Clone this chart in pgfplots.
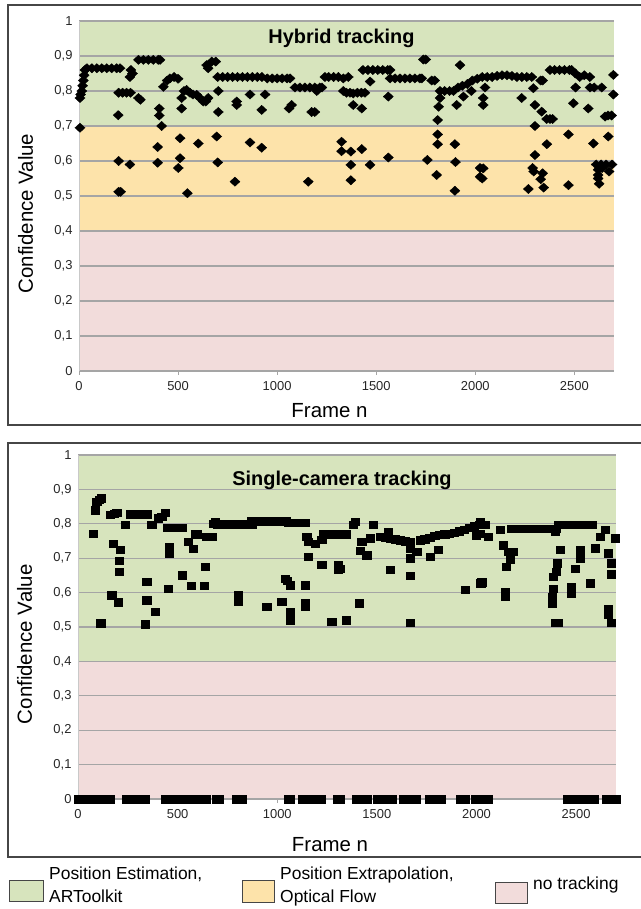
\documentclass[border=0pt]{standalone}
\usepackage{pgfplots}
\pgfplotsset{compat=1.18}
\usepackage{fontspec}
\setmainfont{Liberation Sans}
\definecolor{bgG}{RGB}{215,228,189}
\definecolor{bgO}{RGB}{253,227,170}
\definecolor{bgP}{RGB}{242,220,219}
\definecolor{gridc}{RGB}{165,165,165}
\definecolor{framec}{RGB}{70,70,70}
\pgfplotsset{
  confstyle/.style={
    set layers, scale only axis, clip=false,
    xmin=0, xmax=2700, ymin=0, ymax=1,
    xtick={0,500,1000,1500,2000,2500},
    ytick={0,0.1,0.2,0.3,0.4,0.5,0.6,0.7,0.8,0.9,1},
    axis x line*=bottom, axis y line*=left,
    x axis line style={draw=gridc, line width=1bp, -},
    y axis line style={draw=gridc!60, line width=1bp, -},
    ymajorgrids, grid style={draw=gridc, line width=1.2bp},
    xtick style={draw=gridc, line width=0.8bp},
    major tick length=4bp, xtick align=outside,
    ytick style={draw=none},
    ticklabel style={font=\fontsize{13}{15}\selectfont, text=black!85},
    xticklabel style={yshift=-3bp},
    yticklabel style={xshift=-3bp},
    /pgf/number format/.cd, use comma, fixed, precision=1, 1000 sep={}, assume math mode=true,
    /pgfplots/.cd,
    ylabel={Confidence Value},
    xlabel={Frame n},
    label style={font=\fontsize{20.5}{24}\selectfont},
    ylabel style={at={([xshift=-53.5bp]axis description cs:0,0.45)}, anchor=center},
  },
  hyb/.style={only marks, mark=diamond*, mark size=4.6bp, mark options={xscale=1.45, draw=black, fill=black}},
  sq/.style={only marks, mark=square*, mark size=3.7bp, mark options={xscale=1.1, draw=black, fill=black}},
}
\begin{document}
\begin{tikzpicture}
% ---------------- Hybrid tracking ----------------
\begin{axis}[confstyle, at={(79bp,-371bp)}, anchor=south west, width=535bp, height=350bp,
  xlabel style={at={([xshift=-17bp,yshift=-40bp]axis description cs:0.5,0)}, anchor=center}]
\addplot[on layer=axis background, fill=bgP, draw=none] coordinates {(0,0) (2700,0) (2700,0.4) (0,0.4)};
\addplot[on layer=axis background, fill=bgO, draw=none] coordinates {(0,0.4) (2700,0.4) (2700,0.7) (0,0.7)};
\addplot[on layer=axis background, fill=bgG, draw=none] coordinates {(0,0.7) (2700,0.7) (2700,1) (0,1)};
\addplot[hyb] coordinates {
(5,0.78)(5,0.695)(8,0.79)(14,0.80)(18,0.815)(22,0.83)(26,0.845)(30,0.86)
(40,0.865)(65,0.865)(90,0.865)(115,0.865)(140,0.865)(165,0.865)(190,0.865)(207,0.865)
(198,0.731)(200,0.60)(200,0.512)(210,0.512)
(200,0.795)(220,0.795)(240,0.795)(260,0.795)(257,0.59)
(257,0.84)(262,0.86)(270,0.85)
(300,0.78)(310,0.775)
(300,0.889)(325,0.889)(350,0.889)(375,0.889)(400,0.889)(409,0.889)
(405,0.75)(405,0.73)(417,0.70)(397,0.64)(397,0.595)
(426,0.812)(445,0.83)(459,0.836)(480,0.84)(500,0.835)
(518,0.78)(518,0.75)(510,0.665)(510,0.608)(501,0.58)(547,0.508)
(530,0.80)(543,0.803)(560,0.795)(575,0.79)(594,0.789)(610,0.78)(627,0.77)(640,0.77)
(602,0.65)
(644,0.874)(652,0.865)(670,0.884)(690,0.884)
(695,0.67)(700,0.596)(703,0.80)(703,0.74)(652,0.78)
(700,0.84)(725,0.84)(750,0.84)(775,0.84)(800,0.84)(825,0.84)(850,0.84)(875,0.84)(900,0.84)(923,0.84)
(796,0.77)(796,0.76)(787,0.541)(863,0.79)(863,0.653)(922,0.746)(922,0.638)(939,0.79)
(950,0.836)(975,0.836)(1000,0.836)(1025,0.836)(1050,0.836)(1065,0.836)
(1073,0.76)(1060,0.75)
(1090,0.81)(1115,0.81)(1140,0.81)(1165,0.81)(1190,0.81)(1215,0.81)(1226,0.81)(1200,0.80)
(1174,0.74)(1190,0.74)(1157,0.541)
(1241,0.84)(1260,0.84)(1285,0.84)(1309,0.84)(1334,0.836)(1359,0.84)
(1334,0.80)(1350,0.795)(1368,0.795)(1384,0.793)(1405,0.795)(1425,0.795)(1443,0.795)
(1325,0.655)(1325,0.628)(1372,0.627)(1372,0.589)(1372,0.545)(1427,0.634)
(1384,0.76)(1427,0.75)
(1433,0.86)(1458,0.86)(1483,0.86)(1508,0.86)(1533,0.86)(1558,0.86)(1570,0.86)
(1469,0.827)(1561,0.784)(1469,0.589)(1561,0.61)
(1570,0.836)(1595,0.836)(1620,0.836)(1645,0.836)(1670,0.836)(1695,0.836)(1720,0.836)(1730,0.836)
(1738,0.89)(1750,0.89)(1758,0.603)(1780,0.83)(1795,0.83)
(1822,0.80)(1845,0.80)(1870,0.80)(1890,0.80)
(1822,0.78)(1815,0.755)(1810,0.717)(1810,0.676)(1810,0.648)(1805,0.56)
(1923,0.874)(1906,0.76)(1897,0.648)(1900,0.597)(1897,0.515)
(1913,0.81)(1935,0.815)(1960,0.82)(1985,0.83)(2010,0.835)(2035,0.84)
(1940,0.784)(1980,0.80)
(2024,0.58)(2024,0.555)(2040,0.579)(2035,0.55)
(2049,0.81)(2040,0.78)(2040,0.76)
(2060,0.84)(2085,0.84)(2110,0.843)(2135,0.845)(2160,0.845)(2185,0.843)(2210,0.84)(2235,0.84)(2260,0.84)(2285,0.84)
(2234,0.78)
(2293,0.808)(2330,0.83)(2340,0.83)
(2301,0.76)(2335,0.741)(2360,0.72)(2377,0.72)(2390,0.72)
(2301,0.70)(2301,0.617)(2289,0.58)(2295,0.57)(2361,0.648)(2340,0.565)(2330,0.548)(2268,0.52)(2345,0.524)
(2377,0.86)(2400,0.86)(2425,0.86)(2450,0.86)(2475,0.86)(2486,0.86)
(2505,0.85)(2527,0.84)(2550,0.845)(2578,0.84)
(2506,0.81)(2579,0.81)(2600,0.81)(2638,0.81)
(2495,0.765)(2570,0.75)(2470,0.676)(2470,0.531)
(2697,0.846)(2697,0.79)
(2655,0.727)(2670,0.73)(2688,0.73)(2671,0.67)(2596,0.65)
(2610,0.59)(2635,0.59)(2660,0.59)(2690,0.59)(2620,0.575)(2620,0.56)(2620,0.55)(2625,0.535)(2675,0.57)(2640,0.58)
};
\node[font=\fontsize{20}{23}\selectfont\bfseries, xshift=-5bp] at (rel axis cs:0.5,0.949) {Hybrid tracking};
\end{axis}
% ---------------- Single-camera tracking ----------------
\begin{axis}[confstyle, at={(78bp,-799bp)}, anchor=south west, width=538bp, height=344bp,
  xlabel style={at={([xshift=-17bp,yshift=-46bp]axis description cs:0.5,0)}, anchor=center}]
\addplot[on layer=axis background, fill=bgP, draw=none] coordinates {(0,0) (2700,0) (2700,0.4) (0,0.4)};
\addplot[on layer=axis background, fill=bgG, draw=none] coordinates {(0,0.4) (2700,0.4) (2700,1) (0,1)};
\addplot[sq] coordinates {
(77,0.772)(85,0.84)(94,0.864)(105,0.87)(115,0.875)(114,0.511)
(161,0.826)(180,0.83)(194,0.833)(236,0.797)
(177,0.743)(211,0.724)(207,0.692)(207,0.661)(169,0.593)(202,0.572)
(261,0.828)(285,0.828)(310,0.828)(335,0.828)(345,0.828)
(370,0.797)(403,0.816)(420,0.82)(437,0.833)
(345,0.632)(345,0.578)(386,0.545)(336,0.508)
(458,0.733)(458,0.714)(453,0.612)
(450,0.789)(475,0.789)(500,0.789)(522,0.789)
(554,0.748)(579,0.727)(587,0.772)(600,0.77)(646,0.763)(671,0.763)(660,0.763)
(525,0.651)(570,0.62)(632,0.62)(637,0.675)
(679,0.80)(688,0.806)
(700,0.799)(725,0.799)(750,0.799)(775,0.799)(800,0.799)(825,0.799)(850,0.799)(872,0.799)
(872,0.808)(895,0.808)(920,0.808)(945,0.808)(970,0.808)(995,0.808)(1020,0.808)(1047,0.808)
(1055,0.804)(1080,0.804)(1105,0.804)(1130,0.804)(1139,0.804)
(1148,0.763)(1156,0.748)(1189,0.743)(1223,0.753)
(1230,0.77)(1255,0.77)(1280,0.77)(1305,0.77)(1331,0.772)(1345,0.77)
(1156,0.704)(1223,0.682)(1306,0.68)(1306,0.666)
(1039,0.64)(1050,0.635)(1064,0.622)(1139,0.622)
(804,0.593)(804,0.574)(947,0.559)(1022,0.574)(1064,0.545)(1064,0.52)(1139,0.569)(1139,0.56)(1273,0.515)(1345,0.52)
(1382,0.797)(1390,0.806)
(1424,0.748)(1415,0.721)(1449,0.709)(1465,0.758)(1482,0.797)
(1516,0.763)(1540,0.76)(1557,0.777)(1565,0.757)(1590,0.755)(1615,0.752)(1640,0.75)(1666,0.748)
(1666,0.729)(1700,0.719)(1666,0.70)
(1716,0.752)(1740,0.755)(1765,0.76)(1790,0.765)(1815,0.768)(1840,0.77)(1865,0.772)(1890,0.775)(1915,0.778)(1940,0.782)(1965,0.788)(1990,0.793)(2015,0.797)(2043,0.797)
(2017,0.806)(2000,0.767)(1766,0.704)(1808,0.724)
(1315,0.67)(1566,0.666)(1666,0.649)(1412,0.569)(1666,0.513)(1942,0.608)(2021,0.627)
(2017,0.772)(2059,0.763)(2118,0.782)(2135,0.738)(2160,0.719)(2185,0.719)(2168,0.695)(2151,0.675)(2026,0.63)(2143,0.603)(2143,0.588)
(2176,0.785)(2200,0.785)(2225,0.785)(2250,0.785)(2275,0.785)(2300,0.785)(2325,0.785)(2350,0.785)(2375,0.785)(2402,0.785)
(2394,0.777)
(2410,0.797)(2435,0.797)(2460,0.797)(2494,0.797)(2511,0.797)(2535,0.797)(2560,0.797)(2578,0.797)
(2419,0.724)(2407,0.685)(2400,0.661)(2385,0.646)(2385,0.612)(2380,0.588)(2378,0.569)(2394,0.513)(2410,0.513)
(2494,0.67)(2477,0.617)(2477,0.598)(2519,0.724)(2519,0.70)(2570,0.627)(2594,0.729)(2620,0.763)(2645,0.782)(2695,0.758)
(2661,0.714)(2675,0.685)(2675,0.654)(2661,0.554)(2661,0.535)(2675,0.513)
};
\addplot[sq] coordinates {
(0,0)(20,0)(40,0)(60,0)(80,0)(100,0)(120,0)(140,0)(160,0)
(244,0)(264,0)(282,0)(330,0)(337,0)(440,0)(458,0)
(505,0)(525,0)(545,0)(565,0)(585,0)(605,0)(625,0)(641,0)
(694,0)(709,0)(796,0)(812,0)(826,0)(1053,0)(1066,0)
(1126,0)(1142,0)(1158,0)(1206,0)(1219,0)(1299,0)(1318,0)
(1397,0)(1417,0)(1437,0)(1451,0)(1500,0)(1520,0)(1540,0)(1560,0)(1575,0)
(1633,0)(1653,0)(1673,0)(1697,0)(1762,0)(1769,0)(1814,0)(1820,0)
(1916,0)(1930,0)(1944,0)(1992,0)(2012,0)(2032,0)(2056,0)
(2454,0)(2474,0)(2494,0)(2514,0)(2529,0)(2571,0)(2590,0)(2653,0)(2673,0)(2693,0)(2700,0)
};
\node[font=\fontsize{20}{23}\selectfont\bfseries, xshift=-5bp] at (rel axis cs:0.5,0.925) {Single-camera tracking};
\end{axis}
% ---------------- frames ----------------
\draw[framec, line width=1.3bp] (8bp,-5bp) rectangle (680bp,-425bp);
\draw[framec, line width=1.3bp] (8bp,-443bp) rectangle (680bp,-857bp);
% ---------------- legend ----------------
\draw[framec, line width=0.9bp, fill=bgG] (9bp,-880bp) rectangle (43bp,-901bp);
\draw[framec, line width=0.9bp, fill=bgO] (242bp,-880bp) rectangle (274bp,-902bp);
\draw[framec, line width=0.9bp, fill=bgP] (495bp,-882bp) rectangle (527bp,-903bp);
\begin{scope}[every node/.style={font=\fontsize{17.5}{20}\selectfont, anchor=base west, inner sep=0pt}]
\node at (49bp,-879bp) {Position Estimation,};
\node at (49bp,-902bp) {ARToolkit};
\node at (280bp,-879bp) {Position Extrapolation,};
\node at (280bp,-902bp) {Optical Flow};
\node at (533bp,-889bp) {no tracking};
\end{scope}
\pgfresetboundingbox
\useasboundingbox (0,0) rectangle (641bp,-909bp);
\end{tikzpicture}
\end{document}
